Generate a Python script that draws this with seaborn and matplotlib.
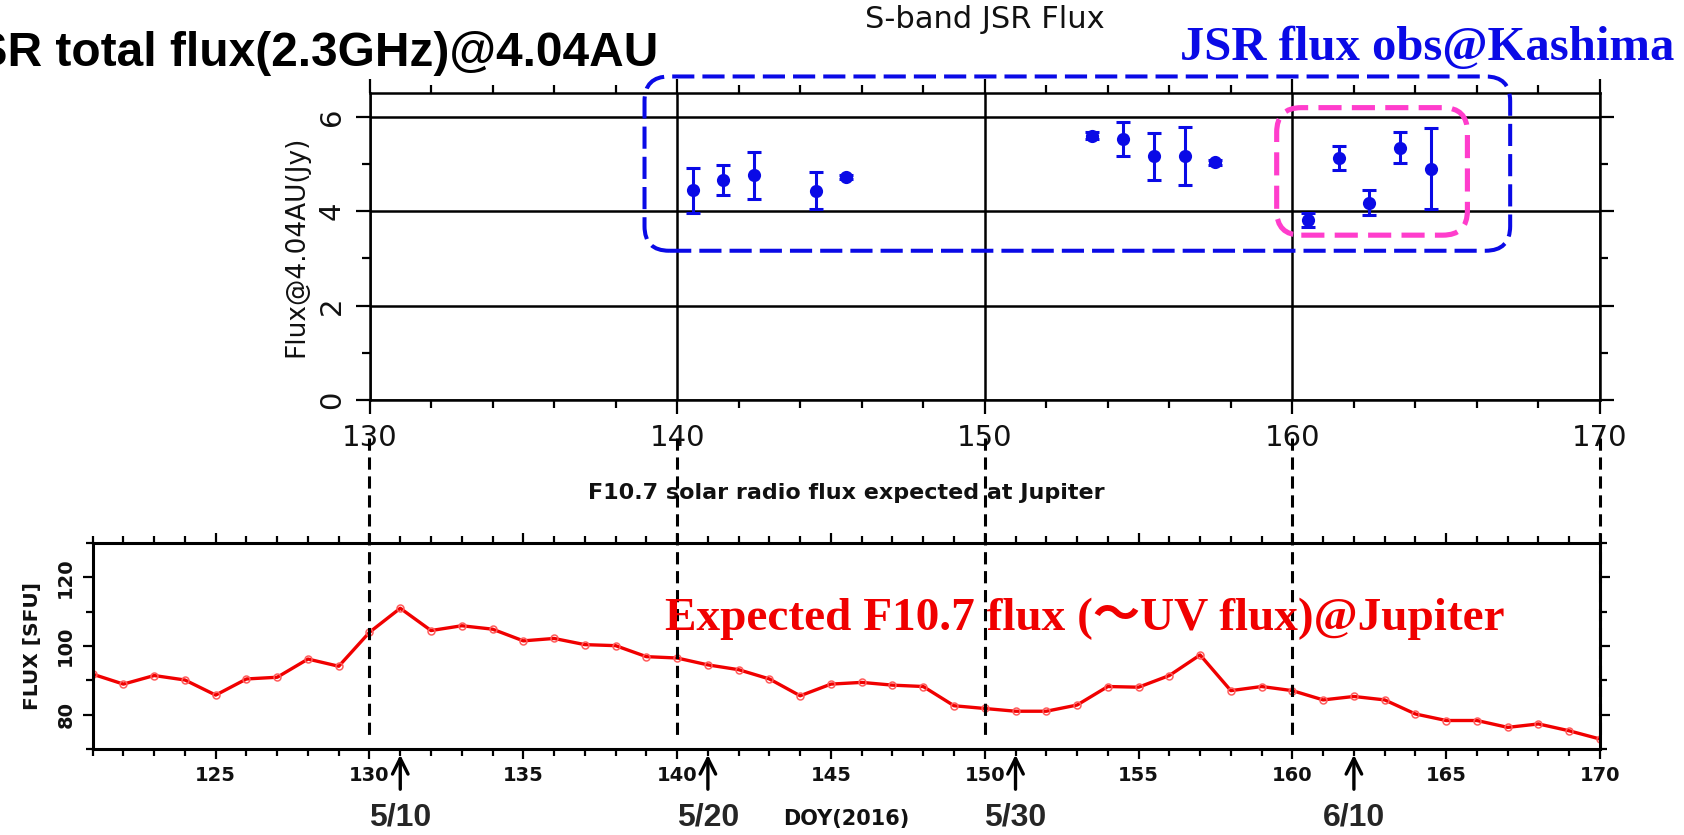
import matplotlib
matplotlib.use("Agg")
import matplotlib.pyplot as plt
import seaborn as sns
from matplotlib.patches import FancyBboxPatch
from matplotlib.lines import Line2D
from matplotlib.transforms import blended_transform_factory
from matplotlib.ticker import MultipleLocator

#########################################################
# DATA
#########################################################

# S-band JSR flux observed at Kashima (DOY, Jy, error)
jsr_doy = [140.5, 141.5, 142.5, 144.5, 145.5, 153.5, 154.5, 155.5, 156.5, 157.5,
           160.5, 161.5, 162.5, 163.5, 164.5]
jsr_flux = [4.44, 4.65, 4.76, 4.43, 4.72, 5.60, 5.53, 5.16, 5.17, 5.03,
            3.81, 5.12, 4.18, 5.34, 4.90]
jsr_err = [0.48, 0.32, 0.50, 0.39, 0.05, 0.08, 0.36, 0.50, 0.62, 0.05,
           0.15, 0.25, 0.27, 0.33, 0.85]

# F10.7 flux expected at Jupiter, daily (DOY 121-170)
f107_doy = list(range(121, 171))
f107_flux = [91.8, 88.9, 91.4, 90.1, 85.7, 90.4, 90.9, 96.2, 94.1, 104.0,
             111.0, 104.5, 105.9, 104.9, 101.5, 102.2, 100.4, 100.1, 96.9, 96.5,
             94.5, 93.1, 90.4, 85.5, 88.9, 89.4, 88.6, 88.2, 82.6, 81.8,
             81.0, 81.0, 82.8, 88.2, 88.0, 91.4, 97.4, 87.0, 88.2, 87.0,
             84.3, 85.3, 84.3, 80.2, 78.3, 78.3, 76.3, 77.3, 75.3, 72.9]

# highlight boxes (x0, y0, x1, y1) in DOY / Jy
blue_box = [138.94, 3.16, 167.08, 6.85]
pink_box = [159.49, 3.49, 165.69, 6.19]

marked_doy = [130, 140, 150, 160, 170]
date_doy = [131, 141, 151, 162]
date_labels = ["5/10", "5/20", "5/30", "6/10"]

BLUE = "#0a0ae6"
PINK = "#ff3dcc"
RED = "#f00000"

#########################################################
# FIGURE
#########################################################

sns.set_style("ticks")
plt.rcParams["font.family"] = ["DejaVu Sans"]

W, H = 1684, 835
fig = plt.figure(figsize=(W / 100, H / 100), dpi=100)

# both panels share the same day scale (130 -> 369.5 px, 170 -> 1600 px)
px_day = (1600 - 369.5) / 40
ax1 = fig.add_axes([369.5 / W, 1 - 400 / H, 1230.5 / W, 307 / H])
left2 = 1600 - 49 * px_day
ax2 = fig.add_axes([left2 / W, 1 - 749 / H, (1600 - left2) / W, 206 / H])

#########################################################
# TOP PANEL - JSR flux
#########################################################

ax1.errorbar(jsr_doy, jsr_flux, yerr=jsr_err, fmt="none", ecolor=BLUE,
             elinewidth=2.2, capsize=5, capthick=2.2, zorder=4)
sns.scatterplot(x=jsr_doy, y=jsr_flux, ax=ax1, color=BLUE, s=90,
                linewidth=0, zorder=5)

ax1.set_xlim(130, 170)
ax1.set_ylim(0, 6.5)
ax1.set_xticks(range(130, 171, 10))
ax1.xaxis.set_minor_locator(MultipleLocator(2))
ax1.set_yticks([0, 2, 4, 6])
ax1.yaxis.set_minor_locator(MultipleLocator(1))
ax1.grid(True, which="major", color="black", lw=1.8)
ax1.tick_params(which="both", direction="out", top=True, right=True,
                width=1.6, color="black", labelcolor="#111111")
ax1.tick_params(which="major", length=10, labelsize=21, pad=7)
ax1.tick_params(which="minor", length=5.5)
for lab in ax1.get_yticklabels():
    lab.set_rotation(90)
    lab.set_va("center")
for sp in ax1.spines.values():
    sp.set_linewidth(1.8)
    sp.set_color("black")
ax1.set_ylabel("Flux@4.04AU(Jy)", fontsize=19, labelpad=6, color="#111111")
ax1.set_title("S-band JSR Flux", fontsize=22, pad=47, color="#111111")

for box, col, lw, dash in [(blue_box, BLUE, 2.9, (5.5, 2)),
                           (pink_box, PINK, 3.7, (4.5, 2.0))]:
    x0, y0, x1, y1 = box
    patch = FancyBboxPatch((x0, y0), x1 - x0, y1 - y0,
                           boxstyle="round,pad=0,rounding_size=0.8",
                           mutation_aspect=0.65, fill=False, ec=col, lw=lw,
                           ls=(0, dash), clip_on=False, zorder=6)
    ax1.add_patch(patch)

#########################################################
# BOTTOM PANEL - F10.7 flux
#########################################################

sns.lineplot(x=f107_doy, y=f107_flux, ax=ax2, color=RED, lw=2.4, marker="o",
             markersize=5, markerfacecolor="none", markeredgecolor="#ff5c5c",
             markeredgewidth=1.1)

ax2.set_xlim(121, 170)
ax2.set_ylim(70, 130)
ax2.set_xticks(range(125, 171, 5))
ax2.xaxis.set_minor_locator(MultipleLocator(1))
ax2.set_yticks([80, 100, 120])
ax2.yaxis.set_minor_locator(MultipleLocator(10))
ax2.tick_params(which="both", direction="out", top=True, right=True,
                width=1.6, color="black", labelcolor="#111111")
ax2.tick_params(which="major", length=7.5, labelsize=14, pad=5)
ax2.tick_params(which="minor", length=5)
for lab in ax2.get_xticklabels() + ax2.get_yticklabels():
    lab.set_fontweight("bold")
for lab in ax2.get_yticklabels():
    lab.set_rotation(90)
    lab.set_va("center")
for sp in ax2.spines.values():
    sp.set_linewidth(2.2)
    sp.set_color("black")
ax2.set_ylabel("FLUX [SFU]", fontsize=14.5, fontweight="bold", labelpad=10,
               color="#111111")
ax2.set_xlabel("DOY(2016)", fontsize=15, fontweight="bold", labelpad=17,
               color="#111111")
ax2.set_title("F10.7 solar radio flux expected at Jupiter", fontsize=16,
              fontweight="bold", pad=32, color="#111111")

#########################################################
# CONNECTING MARKS AND ANNOTATIONS
#########################################################

trans = blended_transform_factory(ax2.transData, fig.transFigure)
for d in marked_doy:
    fig.add_artist(Line2D([d, d], [1 - 438 / H, 1 - 741 / H], transform=trans,
                          color="black", lw=2.2, ls=(0, (4, 2.2))))

for d, lab in zip(date_doy, date_labels):
    ax2.annotate("", xy=(d, 1 - 752 / H), xycoords=trans,
                 xytext=(d, 1 - 792 / H), textcoords=trans,
                 arrowprops=dict(arrowstyle="->", lw=2.4, color="black",
                                 mutation_scale=28),
                 annotation_clip=False)
    ax2.text(d, 1 - 826 / H, lab, transform=trans, ha="center", va="baseline",
             fontsize=23, fontweight="bold", family="Liberation Sans")

# slide heading, cropped at the left edge as in the source slide
fig.text(658 / W, 1 - 66 / H, "JSR total flux(2.3GHz)@4.04AU", ha="right",
         va="baseline", fontsize=34.5, fontweight="bold",
         family="Liberation Sans", color="black")
fig.text(1180 / W, 1 - 60 / H, "JSR flux obs@Kashima", ha="left",
         va="baseline", fontsize=35, fontweight="bold",
         family="Liberation Serif", color=BLUE)
fig.text(665 / W, 1 - 630 / H, "Expected F10.7 flux (\uff5eUV flux)@Jupiter",
         ha="left", va="baseline", fontsize=34, fontweight="bold",
         family=["Liberation Serif", "Noto Sans CJK JP"], color=RED)

fig.savefig("out.png", dpi=100)
